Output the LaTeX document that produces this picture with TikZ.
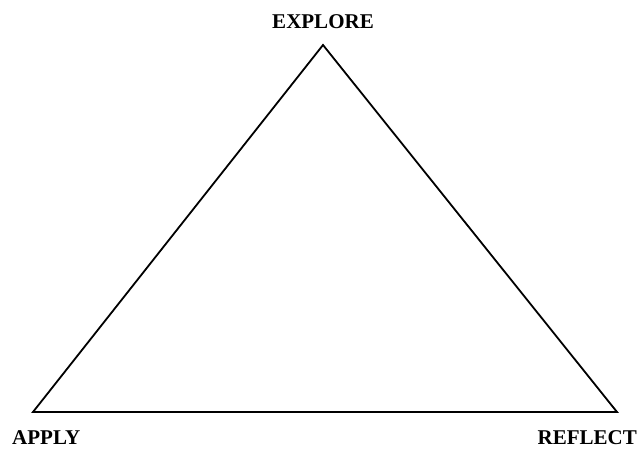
\documentclass[tikz,border=0pt]{standalone}
\usepackage{fontspec}
\setmainfont{Liberation Serif}
\tikzset{
  edge/.style={line width=1.8pt, line join=miter},
  lbl/.style={inner sep=0pt, font=\fontsize{21}{25}\selectfont\bfseries}
}
\begin{document}
\begin{tikzpicture}[x=1pt,y=-1pt]
\useasboundingbox (0,0) rectangle (643,449);
\coordinate (E) at (323,45);
\coordinate (A) at (33,412);
\coordinate (R) at (617,412);
\draw[edge] (E) -- (A) -- (R) -- cycle;
\node[lbl] (tE) at (323,21.5) {EXPLORE};
\node[lbl, anchor=west] (tA) at (12,438) {APPLY};
\node[lbl, anchor=east] (tR) at (637,438) {REFLECT};
\end{tikzpicture}
\end{document}
